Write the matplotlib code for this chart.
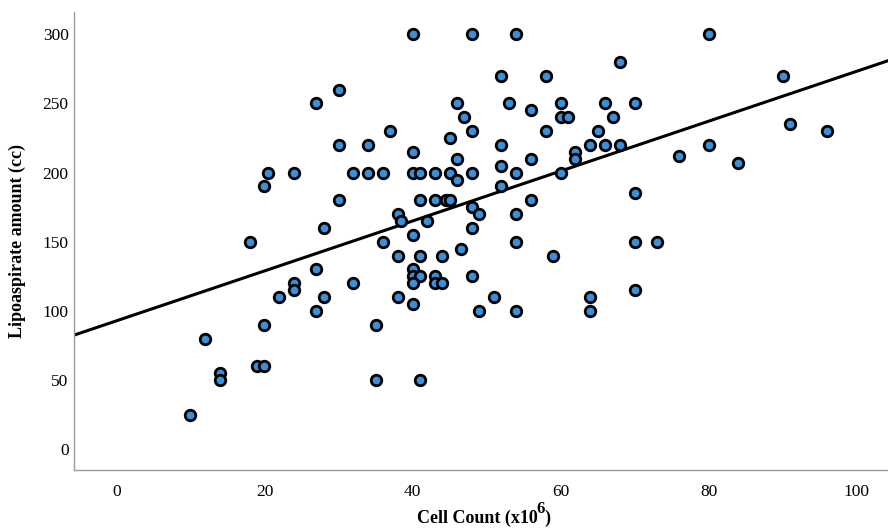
import numpy as np
import matplotlib
matplotlib.use("Agg")
import matplotlib.pyplot as plt

cell_count = [
    40, 48, 54, 80,
    68,
    52, 58, 90,
    30,
    27, 46, 53, 60, 66, 70,
    56,
    47, 60, 61, 67,
    91,
    37, 48, 58, 65, 96,
    45,
    30, 34, 52, 64, 66, 68, 80,
    40, 62,
    76,
    46, 56, 62,
    84,
    52,
    20.5, 24, 32, 34, 36, 40, 41, 43, 45, 48, 54, 60,
    46,
    20, 52,
    70,
    30, 41, 43, 44.5, 45, 56,
    48,
    38, 49, 54,
    38.5, 42,
    28, 48,
    40,
    18, 36, 54, 70, 73,
    46.6,
    38, 41, 44, 59,
    27, 40,
    40, 41, 43, 48,
    24, 32, 40, 43, 44,
    24, 70,
    22, 28, 38, 51, 64,
    40,
    27, 49, 54, 64,
    20, 35,
    12,
    19, 20,
    14,
    14, 35, 41,
    10,
]
lipoaspirate = [
    300, 300, 300, 300,
    280,
    270, 270, 270,
    260,
    250, 250, 250, 250, 250, 250,
    245,
    240, 240, 240, 240,
    235,
    230, 230, 230, 230, 230,
    225,
    220, 220, 220, 220, 220, 220, 220,
    215, 215,
    212,
    210, 210, 210,
    207,
    205,
    200, 200, 200, 200, 200, 200, 200, 200, 200, 200, 200, 200,
    195,
    190, 190,
    185,
    180, 180, 180, 180, 180, 180,
    175,
    170, 170, 170,
    165, 165,
    160, 160,
    155,
    150, 150, 150, 150, 150,
    145,
    140, 140, 140, 140,
    130, 130,
    125, 125, 125, 125,
    120, 120, 120, 120, 120,
    115, 115,
    110, 110, 110, 110, 110,
    105,
    100, 100, 100, 100,
    90, 90,
    80,
    60, 60,
    55,
    50, 50, 50,
    25,
]

x_ticks = [0, 20, 40, 60, 80, 100]
y_ticks = [0, 50, 100, 150, 200, 250, 300]

x = np.array(cell_count, dtype=float)
y = np.array(lipoaspirate, dtype=float)

plt.rcParams['font.family'] = ['Liberation Serif', 'DejaVu Serif']

fig = plt.figure(figsize=(8.88, 5.29), dpi=100)
ax = fig.add_axes([0.0835, 0.1115, 0.9165, 0.8655])

xlim = (-5.7, 104.2)
ax.set_xlim(*xlim)
ax.set_ylim(-15, 316)

slope, intercept = np.polyfit(x, y, 1)
xl = np.array(xlim)
ax.plot(xl, intercept + slope * xl, color='black', lw=2.2, zorder=2)

ax.plot(x, y, 'o', ms=7.6, mfc='#3b8fd9', mec='black', mew=2.0, zorder=3, clip_on=False)

ax.set_xticks(x_ticks)
ax.set_yticks(y_ticks)
ax.tick_params(length=0, labelsize=12.5)
ax.tick_params(axis='x', pad=10)
ax.tick_params(axis='y', pad=4)

for s in ['top', 'right']:
    ax.spines[s].set_visible(False)
for s in ['left', 'bottom']:
    ax.spines[s].set_color('#9a9a9a')
    ax.spines[s].set_linewidth(1.0)

# x label with a large superscript, built from three text pieces
fig.text(0.6055, 0.012, 'Cell Count (x10', fontsize=13, fontweight='bold',
         ha='right', va='baseline')
fig.text(0.6045, 0.030, '6', fontsize=12, fontweight='bold', ha='left', va='baseline')
fig.text(0.6125, 0.012, ')', fontsize=13, fontweight='bold', ha='left', va='baseline')

ax.set_ylabel('Lipoaspirate amount (cc)', fontsize=13, fontweight='bold', labelpad=12)

fig.savefig('out.png', dpi=100)
